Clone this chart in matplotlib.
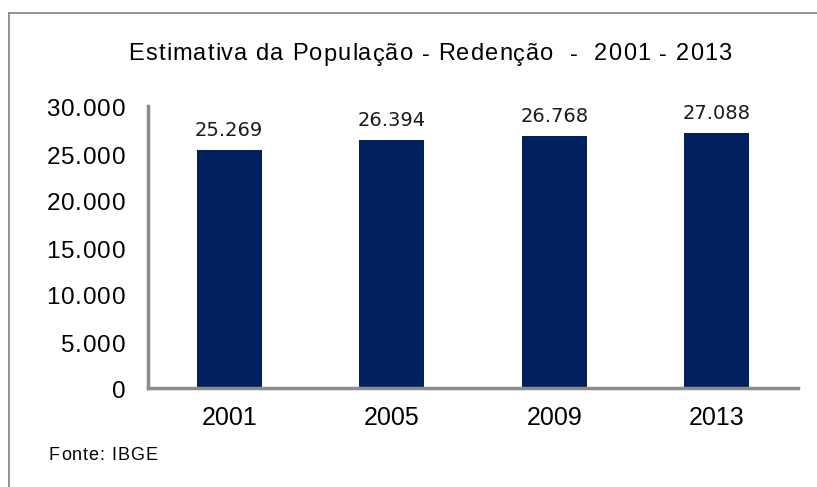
import numpy as np
import matplotlib.pyplot as plt
from matplotlib.transforms import IdentityTransform
from matplotlib.font_manager import FontProperties, findfont, get_font

try:
    from matplotlib.ft2font import LoadFlags
    NO_HINT = LoadFlags.NO_HINTING
except ImportError:
    from matplotlib.ft2font import LOAD_NO_HINTING as NO_HINT

years = ["2001", "2005", "2009", "2013"]
populacao = [25269, 26394, 26768, 27088]
yticks = [0, 5000, 10000, 15000, 20000, 25000, 30000]
titulo = "Estimativa da População - Redenção  -  2001 - 2013"
fonte = "Fonte: IBGE"

W, H = 817, 487
DPI = 100


def fmt(v):
    return f"{v:,}".replace(",", ".")


def advances(s, size, family="Liberation Sans"):
    font = get_font(findfont(FontProperties(family=family)))
    font.set_size(size, DPI)
    out = []
    for ch in s:
        g = font.load_char(ord(ch), flags=NO_HINT)
        out.append(g.linearHoriAdvance / 65536)
    return out


def spaced_text(fig, x, y, s, size, track, ha="left", color="black"):
    # texto com espaçamento entre letras, coordenadas em pixels (y a partir de baixo)
    adv = advances(s, size)
    total = sum(adv) + track * (len(s) - 1)
    if ha == "center":
        x = x - total / 2
    elif ha == "right":
        x = x - total
    for ch, a in zip(s, adv):
        if ch != " ":
            fig.text(x, y, ch, transform=IdentityTransform(), fontsize=size,
                     family="Liberation Sans", ha="left", va="center_baseline",
                     color=color)
        x += a + track


fig = plt.figure(figsize=(W / DPI, H / DPI), dpi=DPI)
plt.rcParams["font.family"] = ["Liberation Sans", "DejaVu Sans"]

# moldura (só esquerda e topo aparecem)
fig.add_artist(plt.Line2D([9 / W, 9 / W], [0, 1 - 13 / H], color="#808080", lw=1.2))
fig.add_artist(plt.Line2D([9 / W, 1], [1 - 13 / H, 1 - 13 / H], color="#808080", lw=1.2))

ax = fig.add_axes([148 / W, 1 - 388 / H, 650 / W, 282 / H])
x = np.arange(len(years))
ax.bar(x, populacao, width=0.4, color="#002060")
ax.set_xlim(-0.5, len(years) - 0.5)
ax.set_ylim(0, 30000)
ax.set_yticks(yticks)
ax.set_yticklabels([])
ax.set_xticks(x)
ax.set_xticklabels(years, fontsize=18)
ax.tick_params(length=0, pad=13)

for s in ["top", "right"]:
    ax.spines[s].set_visible(False)
for s in ["left", "bottom"]:
    ax.spines[s].set_color("#8c8c8c")
    ax.spines[s].set_linewidth(2.5)

for xi, v in zip(x, populacao):
    ax.text(xi, v + 1100, fmt(v), ha="center", va="bottom", fontsize=14,
            family="DejaVu Sans", color="#1a1a1a")

# rótulos do eixo y
for v in yticks:
    px, py = ax.transData.transform((-0.5, v))
    spaced_text(fig, px - 23, py - 2, fmt(v), 17.5, 0.9, ha="right")

spaced_text(fig, 430, H - 52, titulo, 17, 1.1, ha="center")
spaced_text(fig, 49, H - 454, fonte, 13, 0.9, ha="left")

fig.savefig("out.png", dpi=DPI)
